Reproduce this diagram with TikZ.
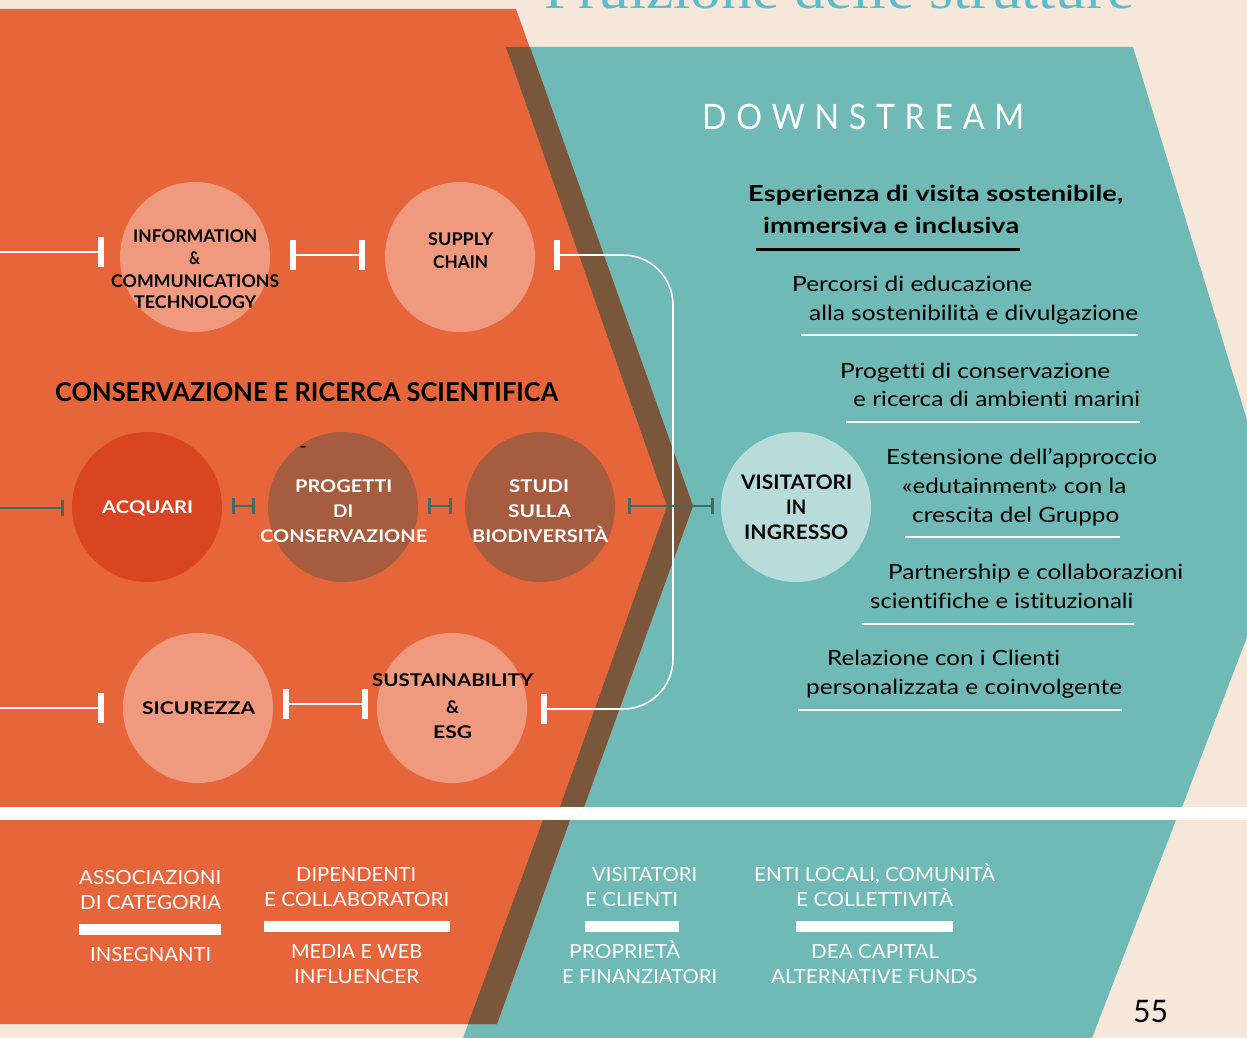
\documentclass[tikz,border=0pt]{standalone}
\usepackage{fontspec}
\setmainfont{Lato}[Ligatures=NoCommon]
\newfontfamily\titlefont{Liberation Serif}
\usepackage{graphicx}
\usetikzlibrary{arrows.meta,calc}
\definecolor{cream}{HTML}{F5E7DA}
\definecolor{orng}{HTML}{E7653A}
\definecolor{tealc}{HTML}{6FBAB6}
\definecolor{brwn}{HTML}{7A573B}
\definecolor{acqcol}{HTML}{D63E1E}
\definecolor{darkcirc}{HTML}{A05C40}
\definecolor{dcol}{HTML}{3F6B66}
\definecolor{titlecol}{HTML}{5CBCCB}
\newcommand\fw[2]{\resizebox{#1pt}{\height}{#2}}
\tikzset{
  wbar/.tip={Bar[width=30pt,line width=6pt]},
  dbar/.tip={Bar[width=16pt,line width=3pt]},
  wcon/.style={draw=white, line width=1.6pt},
  dcon/.style={draw=dcol, line width=1.8pt},
  circ/.style={circle, minimum size=150pt, inner sep=0pt, draw=none},
  tx/.style={inner sep=0pt, anchor=west, text depth=0pt},
  clab/.style={tx, text height=12.6pt, font=\bfseries\fontsize{17.5}{20}\selectfont},
  vlab/.style={tx, text height=14.4pt, font=\bfseries\fontsize{20}{24}\selectfont},
  rtxt/.style={tx, text height=15.1pt, font=\fontsize{21}{25}\selectfont},
  rbold/.style={tx, text height=15.8pt, font=\bfseries\fontsize{22}{26}\selectfont},
  btxt/.style={tx, text height=14pt, text=white, font=\fontsize{19.5}{22}\selectfont},
  rulew/.style={draw=white, line width=1.3pt},
}
\begin{document}
\begin{tikzpicture}[x=1pt,y=-1pt]
\clip (0,0) rectangle (1247,1038);
\fill[cream] (0,0) rectangle (1247,1038);
% title (cut off at top, as in the page)
\node[anchor=base west, inner sep=0pt, text=titlecol, font=\titlefont\fontsize{56}{60}\selectfont] (title) at (544,9) {\fw{590}{Fruizione delle strutture}};
% upper band
\fill[tealc] (506,47) -- (1133,47) -- (1247,420) -- (1247,637) -- (1182,807) -- (560,807) -- (667,506) -- cycle;
\fill[orng] (0,9) -- (516,9) -- (693,506) -- (584,807) -- (0,807) -- cycle;
\fill[brwn] (506,47) -- (530,47) -- (693,506) -- (584,807) -- (560,807) -- (667,506) -- cycle;
% lower band
\fill[tealc] (543,820) -- (1176,820) -- (1092,1038) -- (463,1038) -- cycle;
\fill[orng] (0,820) -- (570,820) -- (497,1024) -- (0,1024) -- cycle;
\fill[brwn] (543,820) -- (570,820) -- (497,1024) -- (468,1024) -- cycle;
% white separator
\fill[white] (0,807) rectangle (1247,820);

% circles
\node[circ, fill=white, fill opacity=0.35] (info) at (195,257) {};
\node[circ, fill=white, fill opacity=0.35] (supply) at (460,257) {};
\node[circ, fill=acqcol, fill opacity=0.8] (acq) at (147,507) {};
\node[circ, fill=darkcirc, fill opacity=0.9] (prog) at (343,507) {};
\node[circ, fill=darkcirc, fill opacity=0.9] (studi) at (540,507) {};
\node[circ, fill=white, fill opacity=0.35] (sic) at (198,708) {};
\node[circ, fill=white, fill opacity=0.35] (sust) at (452,708) {};
\node[circ, fill=white, fill opacity=0.5] (visit) at (796,507) {};

% free ends
\coordinate (l1) at (0,252);
\coordinate (l2) at (0,508);
\coordinate (l3) at (0,708);
\coordinate (bk1) at (673,255);
\coordinate (bk2) at (673,709);

% white connectors
\draw[wcon, -{wbar}] (l1) -- ([xshift=-16pt,yshift=5pt]info.west);
\draw[wcon, {wbar}-{wbar}] ([xshift=20pt,yshift=2pt]info.east) -- ([xshift=-20pt,yshift=2pt]supply.west);
\draw[wcon, rounded corners=50pt, {wbar}-{wbar}] ([xshift=19pt,yshift=2pt]supply.east) -- (bk1) -- (bk2) -- ([xshift=14pt,yshift=-1pt]sust.east);
\draw[wcon, -{wbar}] (l3) -- ([xshift=-19pt]sic.west);
\draw[wcon, {wbar}-{wbar}] ([xshift=10pt,yshift=4pt]sic.east) -- ([xshift=-9pt,yshift=4pt]sust.west);
% dark connectors
\draw[dcon, -{dbar}] (l2) -- ([xshift=-8pt,yshift=-1pt]acq.west);
\draw[dcon, {dbar}-{dbar}] ([xshift=10pt,yshift=1pt]acq.east) -- ([xshift=-13pt,yshift=1pt]prog.west);
\draw[dcon, {dbar}-{dbar}] ([xshift=10pt,yshift=1pt]prog.east) -- ([xshift=-13pt,yshift=1pt]studi.west);
\draw[dcon, {dbar}-{dbar}] ([xshift=13pt,yshift=1pt]studi.east) -- ([xshift=-7pt,yshift=1pt]visit.west);

% circle labels
\node[clab] (i1) at (133,236) {\fw{124}{INFORMATION}};
\node[clab] (i2) at (189,258) {\fw{11}{\&}};
\node[clab] (i3) at (111,281) {\fw{168}{COMMUNICATIONS}};
\node[clab] (i4) at (134,302) {\fw{122}{TECHNOLOGY}};
\node[clab] (s1) at (428,239) {\fw{65}{SUPPLY}};
\node[clab] (s2) at (433,262) {\fw{55}{CHAIN}};
\node[clab, text=white] (a1) at (102,507) {\fw{91}{ACQUARI}};
\node[clab, text=white] (p1) at (295,486) {\fw{97}{PROGETTI}};
\node[clab, text=white] (p2) at (333,511) {\fw{20}{DI}};
\node[clab, text=white] (p3) at (260,536) {\fw{167}{CONSERVAZIONE}};
\node[clab, text=white] (st1) at (509,486) {\fw{60}{STUDI}};
\node[clab, text=white] (st2) at (508,511) {\fw{63}{SULLA}};
\node[clab, text=white] (st3) at (472,536) {\fw{136}{BIODIVERSITÀ}};
\node[vlab] (v1) at (741,482) {\fw{111}{VISITATORI}};
\node[vlab] (v2) at (786,507) {\fw{20}{IN}};
\node[vlab] (v3) at (744,532) {\fw{104}{INGRESSO}};
\node[clab] (sc1) at (142,708) {\fw{113}{SICUREZZA}};
\node[clab] (su1) at (372,680) {\fw{161}{SUSTAINABILITY}};
\node[clab] (su2) at (446,707) {\fw{13}{\&}};
\node[clab] (su3) at (433,732) {\fw{39}{ESG}};
\node[inner sep=0pt, font=\bfseries\fontsize{17.5}{20}\selectfont] (dash) at (303,449) {\fw{7}{-}};
% heading
\node[tx, text height=18.7pt, font=\bfseries\fontsize{26}{30}\selectfont] (head) at (55,392) {\fw{503}{CONSERVAZIONE E RICERCA SCIENTIFICA}};

% right texts
\node[tx, text height=25.2pt, text=white, font=\fontsize{35}{40}\selectfont\addfontfeature{LetterSpace=30}] (ds) at (702,117) {\fw{322}{DOWNSTREAM}};
\node[rbold] (e1) at (748,194) {\fw{375}{Esperienza di visita sostenibile,}};
\node[rbold] (e2) at (763,226) {\fw{256}{immersiva e inclusiva}};
\draw[black, line width=3pt] (756,249) -- (1020,249);
\node[rtxt] (r1a) at (792,284) {\fw{240}{Percorsi di educazione}};
\node[rtxt] (r1b) at (809,313) {\fw{329}{alla sostenibilità e divulgazione}};
\draw[rulew] (801,335) -- (1138,335);
\node[rtxt] (r2a) at (840,371) {\fw{270}{Progetti di conservazione}};
\node[rtxt] (r2b) at (853,399) {\fw{287}{e ricerca di ambienti marini}};
\draw[rulew] (846,422) -- (1140,422);
\node[rtxt] (r3a) at (886,457) {\fw{271}{Estensione dell’approccio}};
\node[rtxt] (r3b) at (902,486) {\fw{224}{«edutainment» con la}};
\node[rtxt] (r3c) at (912,515) {\fw{207}{crescita del Gruppo}};
\draw[rulew] (905,537) -- (1120,537);
\node[rtxt] (r4a) at (888,572) {\fw{295}{Partnership e collaborazioni}};
\node[rtxt] (r4b) at (870,601) {\fw{263}{scientifiche e istituzionali}};
\draw[rulew] (862,624) -- (1134,624);
\node[rtxt] (r5a) at (827,658) {\fw{233}{Relazione con i Clienti}};
\node[rtxt] (r5b) at (806,687) {\fw{316}{personalizzata e coinvolgente}};
\draw[rulew] (798,710) -- (1122,710);

% bottom texts
\node[btxt] (b1) at (79,877) {\fw{142}{ASSOCIAZIONI}};
\node[btxt] (b2) at (80,902) {\fw{141}{DI CATEGORIA}};
\fill[white] (79,924) rectangle (221,935);
\node[btxt] (b3) at (90,954) {\fw{121}{INSEGNANTI}};
\node[btxt] (b4) at (296,874) {\fw{120}{DIPENDENTI}};
\node[btxt] (b5) at (264,899) {\fw{185}{E COLLABORATORI}};
\fill[white] (264,921) rectangle (450,932);
\node[btxt] (b6) at (291,951) {\fw{131}{MEDIA E WEB}};
\node[btxt] (b7) at (294,976) {\fw{125}{INFLUENCER}};
\node[btxt] (b8) at (592,874) {\fw{105}{VISITATORI}};
\node[btxt] (b9) at (585,899) {\fw{93}{E CLIENTI}};
\fill[white] (585,921) rectangle (679,932);
\node[btxt] (b10) at (569,951) {\fw{111}{PROPRIETÀ}};
\node[btxt] (b11) at (562,976) {\fw{155}{E FINANZIATORI}};
\node[btxt] (b12) at (754,874) {\fw{241}{ENTI LOCALI, COMUNITÀ}};
\node[btxt] (b13) at (796,899) {\fw{157}{E COLLETTIVITÀ}};
\fill[white] (796,921) rectangle (953,932);
\node[btxt] (b14) at (811,951) {\fw{128}{DEA CAPITAL}};
\node[btxt] (b15) at (771,976) {\fw{206}{ALTERNATIVE FUNDS}};
% page number
\node[tx, text height=22.3pt, font=\fontsize{31}{34}\selectfont] (pnum) at (1133,1011) {\fw{35}{55}};
\end{tikzpicture}
\end{document}
